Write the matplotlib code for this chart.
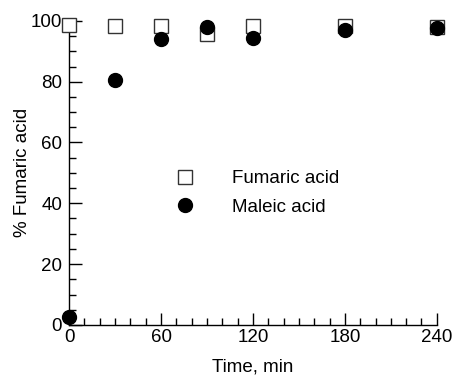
import numpy as np
import matplotlib
matplotlib.use('Agg')
import matplotlib.pyplot as plt
from matplotlib.ticker import MultipleLocator

plt.rcParams['font.family'] = ['Liberation Sans', 'DejaVu Sans']

time_min = [0, 30, 60, 90, 120, 180, 240]
fumaric = [98.7, 98.4, 98.4, 95.8, 98.4, 98.3, 98.0]
maleic = [2.6, 80.4, 94.0, 97.9, 94.5, 97.0, 97.7]

fs = 13.5

fig = plt.figure(figsize=(4.55, 3.8), dpi=100)
ax = fig.add_axes([0.152, 0.145, 0.808, 0.80])

ax.plot(time_min, fumaric, 's', ms=9.5, mfc='white', mec='#333333', mew=1.0,
        clip_on=False, label='Fumaric acid', zorder=3)
ax.plot(time_min, maleic, 'o', ms=10, color='black',
        clip_on=False, label='Maleic acid', zorder=4)

ax.set_xlim(0, 240)
ax.set_ylim(0, 100)
ax.xaxis.set_major_locator(MultipleLocator(60))
ax.xaxis.set_minor_locator(MultipleLocator(10))
ax.yaxis.set_major_locator(MultipleLocator(20))
ax.yaxis.set_minor_locator(MultipleLocator(5))

for s in ['top', 'right']:
    ax.spines[s].set_visible(False)
ax.spines['left'].set_linewidth(1.0)
ax.spines['bottom'].set_linewidth(1.0)

ax.tick_params(which='major', direction='in', length=9, width=1.0,
               labelsize=fs)
ax.tick_params(axis='x', which='major', pad=3)
ax.tick_params(axis='y', which='major', pad=5)
ax.tick_params(which='minor', direction='in', length=4.8, width=1.0)

ax.set_xlabel('Time, min', fontsize=fs, labelpad=9)
ax.set_ylabel('% Fumaric acid', fontsize=fs, labelpad=0)

ax.legend(loc='center', bbox_to_anchor=(0.50, 0.434), frameon=False,
          fontsize=fs, handletextpad=1.5, labelspacing=0.62, numpoints=1)

fig.savefig('out.png', dpi=100)
